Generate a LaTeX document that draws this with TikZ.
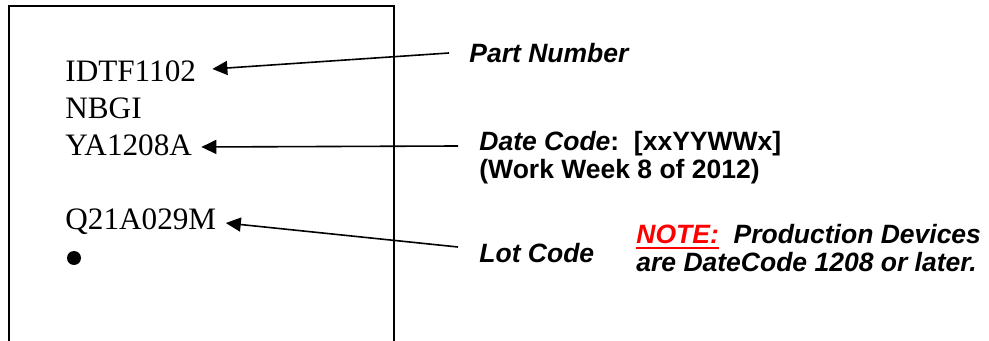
\documentclass[tikz,border=0pt]{standalone}
\usepackage{fontspec}
\setmainfont{Liberation Serif}
\setsansfont{Liberation Sans}
\usetikzlibrary{arrows.meta}
\newcommand\redline[1]{\textcolor{red}{\setbox0\hbox{#1}\rlap{\rule[-2.6pt]{\wd0}{1pt}}\box0}}

\begin{document}
\begin{tikzpicture}[x=0.5pt, y=-0.5pt]
% Styles
\tikzstyle{marking} = [anchor=base west, inner sep=0pt, font=\fontsize{15.6}{18}\selectfont]
\tikzstyle{callout} = [anchor=base west, inner sep=0pt, align=left, font=\sffamily\bfseries\fontsize{13.25}{14}\selectfont]
\tikzstyle{notebox} = [callout, font=\sffamily\bfseries\itshape\fontsize{13.25}{14}\selectfont]
\tikzstyle{arrow} = [line width=0.8pt, -{Triangle[length=7.5pt, width=7pt]}]

\useasboundingbox (0,0) rectangle (989,341);

% Package outline (open at the bottom)
\draw [line width=1pt] (9,341) -- (9,6) -- (394,6) -- (394,341);

% Nodes
\node (part) [marking] at (65,82) {IDTF1102};
\node (fab) [marking] at (65,119) {NBGI};
\node (date) [marking] at (65,156) {YA1208A};
\node (lot) [marking] at (65,230) {Q21A029M};
\node (pin) [circle, fill, inner sep=0pt, minimum size=7pt] at (74,258) {};

% Callouts (a two-line node sits on its last baseline)
\node (partlbl) [callout] at (469,63) {\itshape Part Number};
\node (datelbl) [callout] at (479,179) {\textit{Date Code}:\ \ [xxYYWWx]\\(Work Week 8 of 2012)};
\node (lotlbl) [callout] at (479,263) {\itshape Lot Code};
\node (note) [notebox] at (636,272) {\redline{NOTE:}\ \ Production Devices\\are DateCode 1208 or later.};

% Arrows
\draw [arrow] ([xshift=-10pt, yshift=5pt]partlbl.base west) -- ([xshift=8pt, yshift=6.5pt]part.base east);
\draw [arrow] ([xshift=-10.5pt, yshift=16.5pt]datelbl.base west) -- ([xshift=4.5pt, yshift=4.5pt]date.base east);
\draw [arrow] ([xshift=-10.5pt, yshift=8pt]lotlbl.base west) -- ([xshift=4.6pt, yshift=3.5pt]lot.base east);

\end{tikzpicture}
\end{document}
